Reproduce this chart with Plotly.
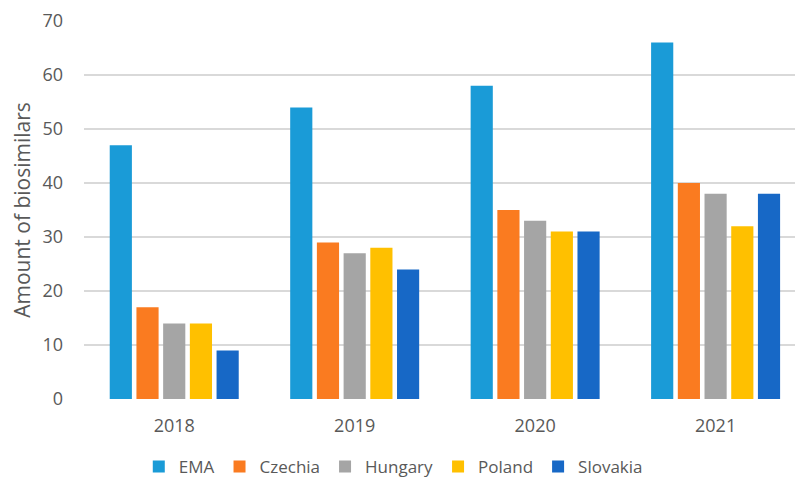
import plotly.graph_objects as go

years = ["2018", "2019", "2020", "2021"]
series_names = ["EMA", "Czechia", "Hungary", "Poland", "Slovakia"]
ema = [47, 54, 58, 66]
czechia = [17, 29, 35, 40]
hungary = [14, 27, 33, 38]
poland = [14, 28, 31, 32]
slovakia = [9, 24, 31, 38]
colors = ["#1A9BD7", "#FA7B20", "#A5A5A5", "#FFC000", "#1768C6"]

values = [ema, czechia, hungary, poland, slovakia]

fig = go.Figure()
for name, vals, col in zip(series_names, values, colors):
    fig.add_trace(go.Bar(x=years, y=vals, name=name, marker=dict(color=col, line=dict(width=0))))

fig.update_layout(
    width=795, height=483,
    margin=dict(l=84, r=0, t=21, b=84, autoexpand=False),
    paper_bgcolor="white", plot_bgcolor="white",
    font=dict(family="Open Sans, sans-serif", size=18, color="#595959"),
    barmode="group", bargap=0.26, bargroupgap=0.17,
    showlegend=True,
    legend=dict(orientation="h", x=0.435, xanchor="center", y=-0.18, yanchor="middle",
                font=dict(size=17, color="#595959"), itemwidth=30, traceorder="normal"),
    xaxis=dict(range=[-0.5, 3.44], showgrid=False, zeroline=False, showline=False,
               ticks="", ticklabelstandoff=14, tickfont=dict(size=18, color="#595959")),
    yaxis=dict(range=[0, 70], dtick=10, showgrid=True, gridcolor="#D9D9D9", gridwidth=2,
               zeroline=False, showline=False, ticks="", ticklabelstandoff=20,
               tickfont=dict(size=18, color="#595959"),
               title=dict(text="Amount of biosimilars", font=dict(size=21, color="#595959"), standoff=6)),
)

fig.write_html("out.html")
